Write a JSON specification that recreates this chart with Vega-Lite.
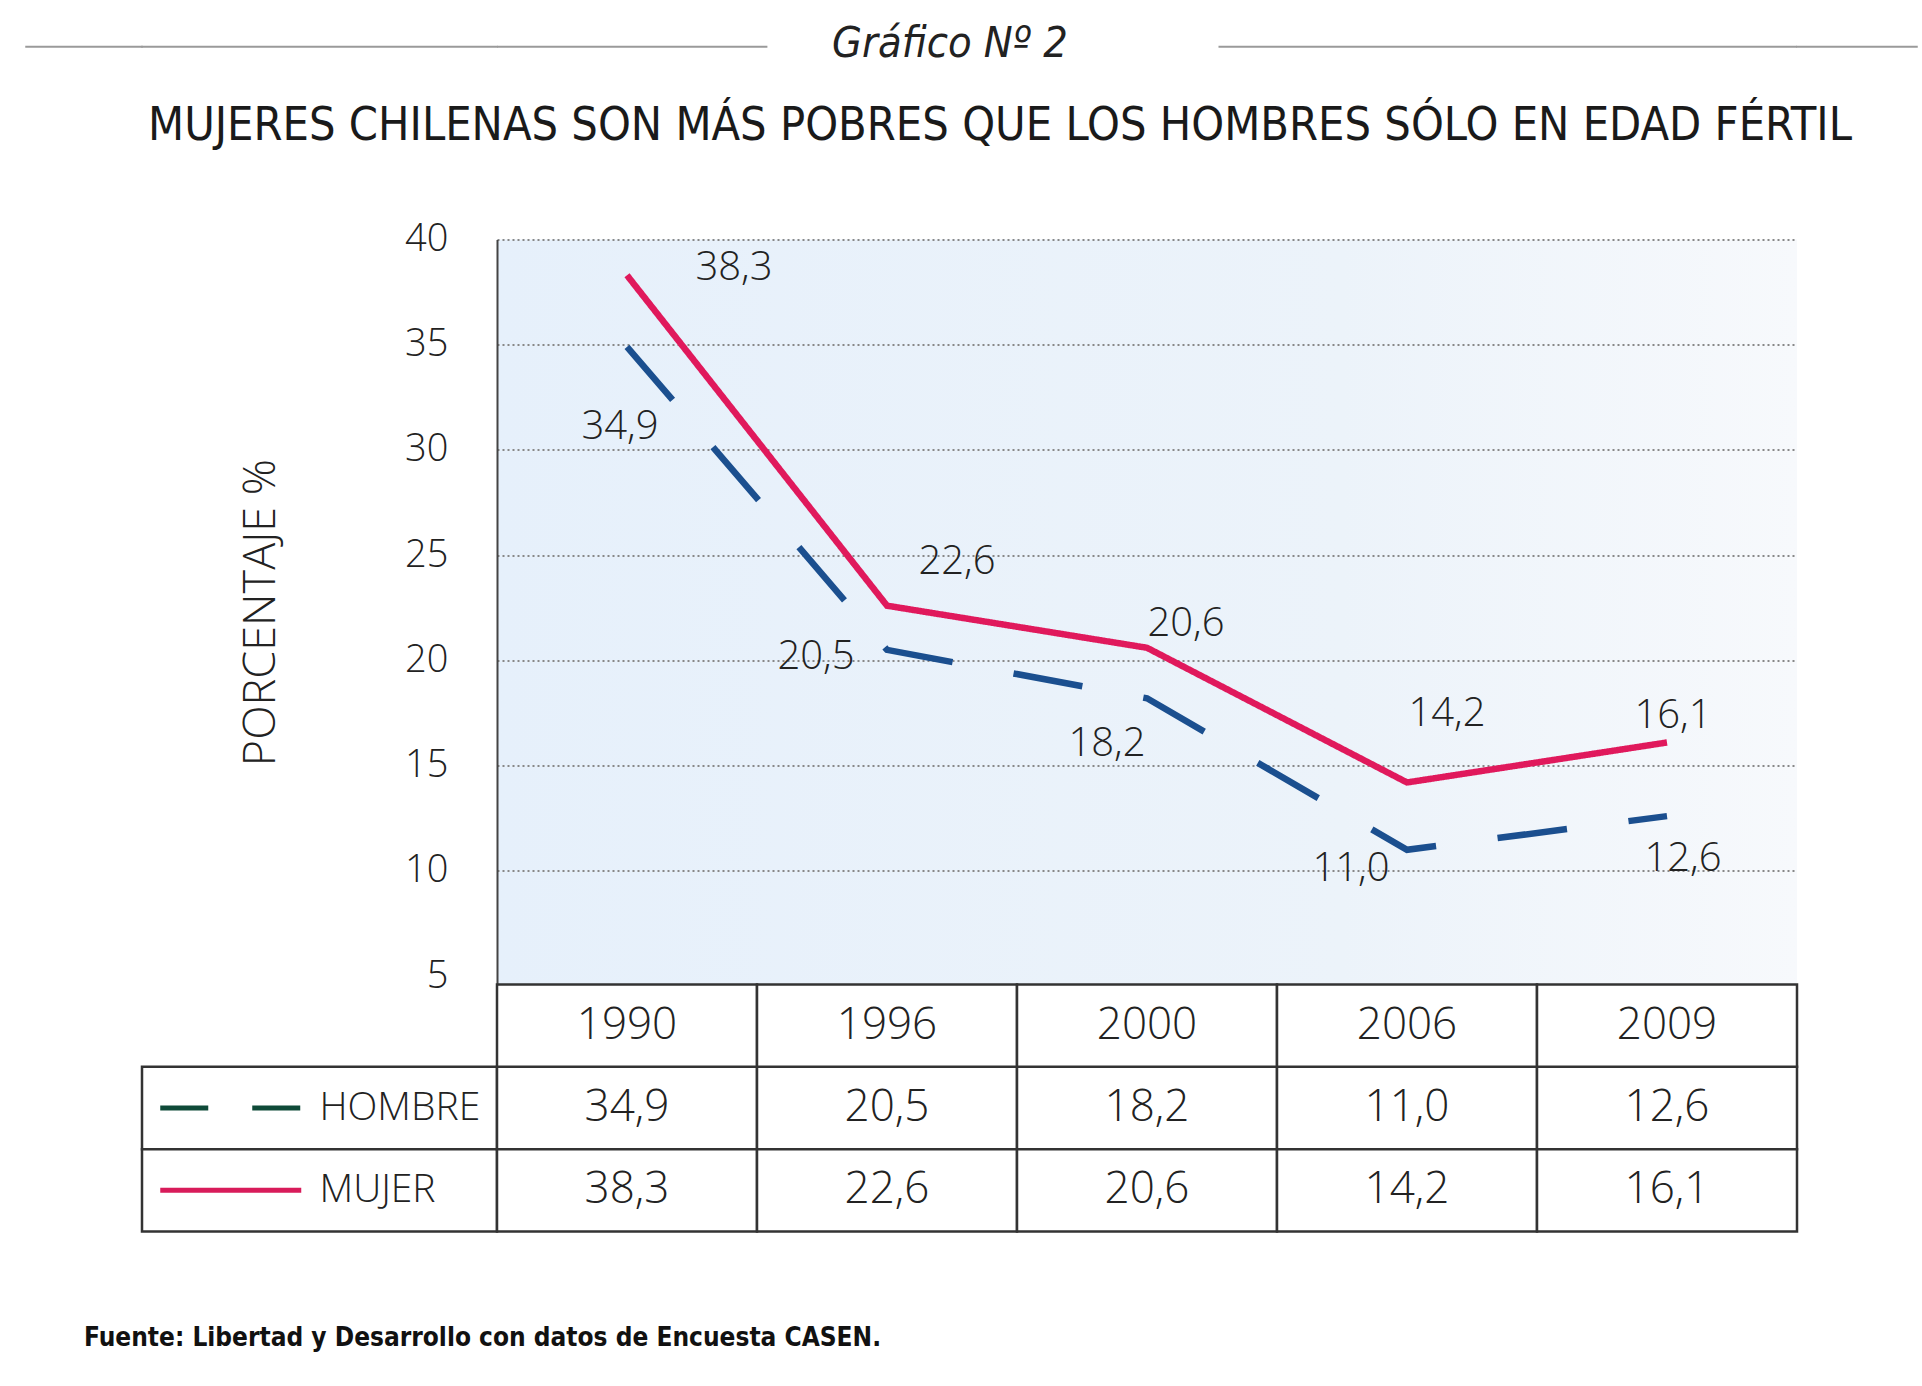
{
  "$schema": "https://vega.github.io/schema/vega-lite/v6.json",
  "background": "white",
  "padding": {"left": 25, "top": 22.5, "right": 0, "bottom": 5},
  "datasets": {
    "datos": [
      {"serie": "HOMBRE", "anio": "1990", "valor": 34.9},
      {"serie": "HOMBRE", "anio": "1996", "valor": 20.5},
      {"serie": "HOMBRE", "anio": "2000", "valor": 18.2},
      {"serie": "HOMBRE", "anio": "2006", "valor": 11.0},
      {"serie": "HOMBRE", "anio": "2009", "valor": 12.6},
      {"serie": "MUJER", "anio": "1990", "valor": 38.3},
      {"serie": "MUJER", "anio": "1996", "valor": 22.6},
      {"serie": "MUJER", "anio": "2000", "valor": 20.6},
      {"serie": "MUJER", "anio": "2006", "valor": 14.2},
      {"serie": "MUJER", "anio": "2009", "valor": 16.1}
    ]
  },
  "columns": 4,
  "align": "each",
  "bounds": "flush",
  "spacing": 0,
  "resolve": {"scale": {"color": "independent", "strokeDash": "independent"}},
  "concat": [
    {"width": 116, "height": 0.5, "data": {"values": []}, "mark": "text", "encoding": {}, "view": {"stroke": "#9a9a9a", "strokeWidth": 1.5}},
    {"width": 355, "height": 0.5, "data": {"values": []}, "mark": "text", "encoding": {}, "view": {"stroke": "#9a9a9a", "strokeWidth": 1.5}},
    {
      "width": 1300, "height": 0.5,
      "data": {"values": [{}]},
      "layer": [
        {"mark": {"type": "rule", "color": "#9a9a9a", "strokeWidth": 2},
         "encoding": {"x": {"datum": 0, "type": "quantitative", "scale": {"domain": [0, 1], "nice": false}, "axis": null}, "x2": {"datum": 0.208}}},
        {"mark": {"type": "rule", "color": "#9a9a9a", "strokeWidth": 2},
         "encoding": {"x": {"datum": 0.555, "type": "quantitative"}, "x2": {"datum": 1}}},
        {"mark": {"type": "text", "font": "Liberation Sans Narrow, DejaVu Sans Condensed, sans-serif", "fontStyle": "italic", "fontWeight": "normal", "fontSize": 43, "color": "#222", "baseline": "middle", "dx": -197, "dy": -3},
         "encoding": {"text": {"value": "Gráfico Nº 2"}}},
        {"mark": {"type": "text", "font": "Liberation Sans Narrow, DejaVu Sans Condensed, sans-serif", "fontWeight": "normal", "fontSize": 46.5, "color": "#1a1a1a", "baseline": "middle", "dx": -147, "dy": 79},
         "encoding": {"text": {"value": "MUJERES CHILENAS SON MÁS POBRES QUE LOS HOMBRES SÓLO EN EDAD FÉRTIL"}}}
      ]
    },
    {"width": 120, "height": 0.5, "data": {"values": []}, "mark": "text", "encoding": {}, "view": {"stroke": "#9a9a9a", "strokeWidth": 1.5}},

    {"width": 1, "height": 191.3, "data": {"values": []}, "mark": "text", "encoding": {}},
    {"width": 1, "height": 1, "data": {"values": []}, "mark": "text", "encoding": {}},
    {"width": 1, "height": 1, "data": {"values": []}, "mark": "text", "encoding": {}},
    {"width": 1, "height": 1, "data": {"values": []}, "mark": "text", "encoding": {}},

    {"width": 1, "height": 1, "data": {"values": []}, "mark": "text", "encoding": {}},
    {"width": 1, "height": 1, "data": {"values": []}, "mark": "text", "encoding": {}},
    {
      "width": 1300, "height": 745,
      "data": {"name": "datos"},
      "view": {"stroke": null, "fill": {"gradient": "linear", "x1": 0, "y1": 0, "x2": 1, "y2": 0, "stops": [{"offset": 0, "color": "#e6f0fb"}, {"offset": 0.65, "color": "#ecf3fa"}, {"offset": 1, "color": "#f7f9fc"}]}},
      "encoding": {
        "x": {"field": "anio", "type": "ordinal", "scale": {"type": "point", "padding": 0.5, "domain": ["1990", "1996", "2000", "2006", "2009"]}, "axis": null},
        "y": {"field": "valor", "type": "quantitative",
              "scale": {"domain": [4.6, 40], "nice": false, "zero": false},
              "axis": {"values": [5, 10, 15, 20, 25, 30, 35, 40], "title": "PORCENTAJE %",
                       "titleFont": "Open Sans", "titleFontWeight": 300, "titleFontSize": 45, "titleColor": "#222", "titlePadding": 121,
                       "labelFont": "Open Sans", "labelFontWeight": 300, "labelFontSize": 38, "labelColor": "#222", "labelPadding": 49,
                       "ticks": false, "tickSize": 0, "domainColor": "#444", "domainWidth": 2,
                       "grid": true, "gridColor": "#888", "gridDash": [2, 3], "gridWidth": 2,
                       "gridOpacity": {"condition": {"test": "datum.value === 5", "value": 0}, "value": 1}}}
      },
      "layer": [
        {"mark": {"type": "line", "strokeWidth": 6.5},
         "encoding": {
           "color": {"field": "serie", "type": "nominal", "scale": {"domain": ["HOMBRE", "MUJER"], "range": ["#1b4f8f", "#e0195c"]}, "legend": null},
           "strokeDash": {"field": "serie", "type": "nominal", "scale": {"domain": ["HOMBRE", "MUJER"], "range": [[70, 62], [1, 0]]}, "legend": null}
         }},
        {"transform": [{"filter": "datum.serie === 'MUJER' && datum.anio === '1990'"}], "mark": {"type": "text", "dx": 107, "dy": -7}, "encoding": {"text": {"field": "valor", "type": "quantitative", "format": ".1f"}}},
        {"transform": [{"filter": "datum.serie === 'MUJER' && datum.anio === '1996'"}], "mark": {"type": "text", "dx": 70, "dy": -44}, "encoding": {"text": {"field": "valor", "type": "quantitative", "format": ".1f"}}},
        {"transform": [{"filter": "datum.serie === 'MUJER' && datum.anio === '2000'"}], "mark": {"type": "text", "dx": 39, "dy": -24}, "encoding": {"text": {"field": "valor", "type": "quantitative", "format": ".1f"}}},
        {"transform": [{"filter": "datum.serie === 'MUJER' && datum.anio === '2006'"}], "mark": {"type": "text", "dx": 40, "dy": -68}, "encoding": {"text": {"field": "valor", "type": "quantitative", "format": ".1f"}}},
        {"transform": [{"filter": "datum.serie === 'MUJER' && datum.anio === '2009'"}], "mark": {"type": "text", "dx": 6, "dy": -26}, "encoding": {"text": {"field": "valor", "type": "quantitative", "format": ".1f"}}},
        {"transform": [{"filter": "datum.serie === 'HOMBRE' && datum.anio === '1990'"}], "mark": {"type": "text", "dx": -7, "dy": 80}, "encoding": {"text": {"field": "valor", "type": "quantitative", "format": ".1f"}}},
        {"transform": [{"filter": "datum.serie === 'HOMBRE' && datum.anio === '1996'"}], "mark": {"type": "text", "dx": -71, "dy": 7}, "encoding": {"text": {"field": "valor", "type": "quantitative", "format": ".1f"}}},
        {"transform": [{"filter": "datum.serie === 'HOMBRE' && datum.anio === '2000'"}], "mark": {"type": "text", "dx": -40, "dy": 46}, "encoding": {"text": {"field": "valor", "type": "quantitative", "format": ".1f"}}},
        {"transform": [{"filter": "datum.serie === 'HOMBRE' && datum.anio === '2006'"}], "mark": {"type": "text", "dx": -56, "dy": 19}, "encoding": {"text": {"field": "valor", "type": "quantitative", "format": ".1f"}}},
        {"transform": [{"filter": "datum.serie === 'HOMBRE' && datum.anio === '2009'"}], "mark": {"type": "text", "dx": 16, "dy": 43}, "encoding": {"text": {"field": "valor", "type": "quantitative", "format": ".1f"}}}
      ]
    },
    {"width": 1, "height": 1, "data": {"values": []}, "mark": "text", "encoding": {}},

    {"width": 1, "height": 1, "data": {"values": []}, "mark": "text", "encoding": {}},
    {
      "width": 355, "height": 247,
      "data": {"name": "datos"},
      "transform": [{"filter": "datum.anio === '1990'"}],
      "layer": [
        {"mark": {"type": "rect", "fill": "white", "stroke": "#333", "strokeWidth": 2.5},
         "encoding": {"y": {"field": "serie", "type": "nominal", "scale": {"domain": ["AÑO", "HOMBRE", "MUJER"], "padding": 0}, "axis": null}}},
        {"mark": {"type": "point", "shape": "stroke", "size": 19881, "strokeWidth": 5, "opacity": 1, "filled": false},
         "encoding": {
           "x": {"datum": "simbolo", "type": "nominal", "scale": {"type": "band", "domain": ["simbolo", "etiqueta"], "padding": 0}, "axis": null},
           "y": {"field": "serie", "type": "nominal"},
           "color": {"field": "serie", "type": "nominal", "scale": {"domain": ["HOMBRE", "MUJER"], "range": ["#0f4a38", "#d81b5a"]}, "legend": null},
           "strokeDash": {"field": "serie", "type": "nominal", "scale": {"domain": ["HOMBRE", "MUJER"], "range": [[48, 44], [1, 0]]}, "legend": null}
         }},
        {"mark": {"type": "text", "align": "left", "fontSize": 39},
         "encoding": {
           "x": {"datum": "etiqueta", "type": "nominal", "bandPosition": 0},
           "y": {"field": "serie", "type": "nominal"},
           "text": {"field": "serie", "type": "nominal"}
         }}
      ]
    },
    {
      "width": 1300, "height": 247,
      "data": {"name": "datos"},
      "encoding": {
        "x": {"field": "anio", "type": "ordinal", "scale": {"type": "band", "padding": 0, "domain": ["1990", "1996", "2000", "2006", "2009"]}, "axis": null}
      },
      "layer": [
        {"mark": {"type": "rect", "fill": "white", "stroke": "#333", "strokeWidth": 2.5},
         "encoding": {"y": {"field": "serie", "type": "nominal", "scale": {"domain": ["AÑO", "HOMBRE", "MUJER"], "padding": 0}, "axis": null}}},
        {"transform": [{"filter": "datum.serie === 'HOMBRE'"}],
         "mark": {"type": "rect", "fill": "white", "stroke": "#333", "strokeWidth": 2.5},
         "encoding": {"y": {"datum": "AÑO", "type": "nominal"}}},
        {"mark": {"type": "text", "fontSize": 44},
         "encoding": {"y": {"field": "serie", "type": "nominal"}, "text": {"field": "valor", "type": "quantitative", "format": ".1f"}}},
        {"transform": [{"filter": "datum.serie === 'HOMBRE'"}],
         "mark": {"type": "text", "fontSize": 44},
         "encoding": {"y": {"datum": "AÑO", "type": "nominal"}, "text": {"field": "anio", "type": "nominal"}}}
      ]
    },
    {"width": 1, "height": 1, "data": {"values": []}, "mark": "text", "encoding": {}},

    {"width": 116, "height": 0.5, "data": {"values": [{}]},
     "mark": {"type": "text", "align": "left", "baseline": "middle", "font": "Liberation Sans Narrow, DejaVu Sans Condensed, sans-serif", "fontWeight": "bold", "fontSize": 26, "color": "#111", "dy": 106},
     "encoding": {"text": {"value": "Fuente: Libertad y Desarrollo con datos de Encuesta CASEN."}}}
  ],
  "config": {
    "view": {"stroke": null},
    "text": {"font": "Open Sans", "fontWeight": 300, "fontSize": 40, "color": "#222", "baseline": "middle"},
    "locale": {"number": {"decimal": ",", "thousands": ".", "grouping": [3], "currency": ["$", ""]}}
  }
}
